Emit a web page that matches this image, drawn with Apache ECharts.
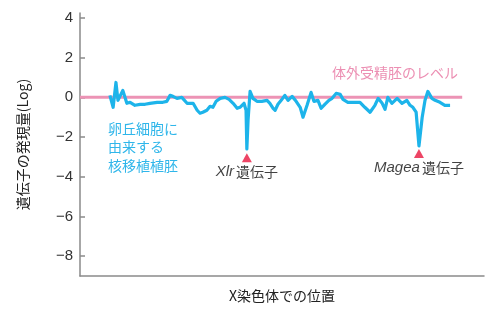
<!DOCTYPE html>
<html><head><meta charset="utf-8">
<script src="https://cdn.jsdelivr.net/npm/echarts@6/dist/echarts.min.js"></script>
<style>html,body{margin:0;padding:0;background:#fff}#c{width:500px;height:310px}</style>
</head><body><div id="c"></div>
<script>
// position along X chromosome (0-100 scale) and log expression
const positions = [7.4,8.2,8.9,9.4,10.6,11.6,12.4,13.6,14.9,16.1,17.3,19.1,20.5,21.5,22.3,23.0,24.0,25.2,26.5,28.0,29.0,29.7,30.4,31.4,32.2,32.9,33.7,34.7,35.9,36.9,37.9,38.9,39.6,40.6,41.1,41.3,41.6,42.1,42.8,43.8,45.0,46.3,47.0,47.8,48.3,49.0,49.8,50.7,51.5,52.5,53.5,54.5,55.2,56.2,57.2,57.9,58.9,59.7,60.6,61.6,62.4,63.4,64.4,65.1,66.3,68.1,69.3,70.5,71.8,73.0,73.8,74.8,75.5,76.2,77.2,78.5,79.7,80.9,81.7,82.4,83.2,83.9,84.7,85.4,86.1,87.1,87.9,89.1,90.3,91.6];
const expression = [0.1,-0.5,0.75,-0.15,0.35,-0.3,-0.25,-0.4,-0.35,-0.35,-0.3,-0.25,-0.25,-0.2,0.1,0.05,-0.05,0.0,-0.3,-0.3,-0.65,-0.8,-0.75,-0.65,-0.45,-0.5,-0.2,-0.05,0.0,-0.1,-0.3,-0.55,-0.5,-0.3,-0.65,-2.6,-1.15,0.3,-0.05,-0.2,-0.2,-0.15,-0.3,-0.55,-0.65,-0.35,-0.15,0.1,-0.15,0.05,-0.2,-0.5,-1.0,-0.4,0.25,-0.2,-0.15,-0.55,-0.35,-0.15,-0.05,0.2,0.15,-0.1,-0.25,-0.25,-0.25,-0.5,-0.75,-0.4,-0.05,-0.3,-0.6,0.0,-0.3,-0.05,-0.3,-0.15,-0.4,-0.5,-0.75,-2.45,-1.0,-0.15,0.3,-0.05,-0.15,-0.25,-0.4,-0.4];
// IVF embryo reference level
const refPositions = [0, 94.6];
const refLevel = [0, 0];
// gene markers
const geneNames = ['Xlr', 'Magea'];
const genePositions = [41.3, 83.9];
const geneMarkerY = [-3.04, -2.83];
const yTicks = [-8, -6, -4, -2, 0, 2, 4];
const yMin = -9, yMax = 4.25;

const FONT = '"Liberation Sans","Noto Sans CJK JP",sans-serif';
const JFONT = '"Noto Sans CJK JP",sans-serif';
const chart = echarts.init(document.getElementById('c'), null, {renderer: 'canvas'});
const line = positions.map((p, i) => [p, expression[i]]);
const ref = refPositions.map((p, i) => [p, refLevel[i]]);
const markers = genePositions.map((p, i) => ({value: [p, geneMarkerY[i]], name: geneNames[i]}));

chart.setOption({
  animation: false,
  grid: {left: 80, right: 16, top: 13, bottom: 34},
  xAxis: {
    type: 'value', min: 0, max: 100,
    axisLine: {show: true, onZero: false, lineStyle: {color: '#8a8a8a', width: 1.5}},
    axisTick: {show: false}, axisLabel: {show: false}, splitLine: {show: false},
    name: 'X染色体での位置', nameLocation: 'middle', nameGap: 13,
    nameTextStyle: {fontFamily: JFONT, fontSize: 14, color: '#222'}
  },
  yAxis: {
    type: 'value', min: yMin, max: yMax,
    axisLine: {show: true, onZero: false, lineStyle: {color: '#8a8a8a', width: 1.5}},
    axisTick: {show: true, inside: true, length: 5, customValues: yTicks, lineStyle: {color: '#8a8a8a', width: 1.5}},
    axisLabel: {customValues: yTicks, margin: 7, fontFamily: FONT, fontSize: 15, color: '#333',
      formatter: v => String(v).replace('-', '−')},
    splitLine: {show: false},
    name: '遺伝子の発現量(Log)', nameLocation: 'middle', nameRotate: 90, nameGap: 50,
    nameTextStyle: {fontFamily: JFONT, fontSize: 14, color: '#222'}
  },
  series: [
    {type: 'line', data: ref, symbol: 'none', lineStyle: {color: '#ec93b5', width: 3}, z: 2},
    {type: 'line', data: line, symbol: 'none', lineStyle: {color: '#1db4ea', width: 3.2, join: 'round'}, z: 3},
    {type: 'scatter', data: markers, symbol: 'triangle', symbolSize: [10, 9], itemStyle: {color: '#e8163f'}, z: 4,
      label: {show: true, position: 'bottom', distance: 2,
        formatter: p => '{i|' + p.name + '}{j|遺伝子}',
        rich: {i: {fontFamily: FONT, fontStyle: 'italic', fontSize: 15, color: '#111'},
               j: {fontFamily: JFONT, fontSize: 14, color: '#111', padding: [0,0,0,2]}}}}
  ],
  graphic: [
    {type: 'text', left: 332, top: 66, style: {text: '体外受精胚のレベル', fontFamily: JFONT, fontSize: 14, fill: '#ec8fb3'}},
    {type: 'text', left: 108, top: 119, style: {text: '卵丘細胞に\n由来する\n核移植植胚', fontFamily: JFONT, fontSize: 14, lineHeight: 18.5, fill: '#2fb6ea'}}
  ]
});
</script></body></html>
